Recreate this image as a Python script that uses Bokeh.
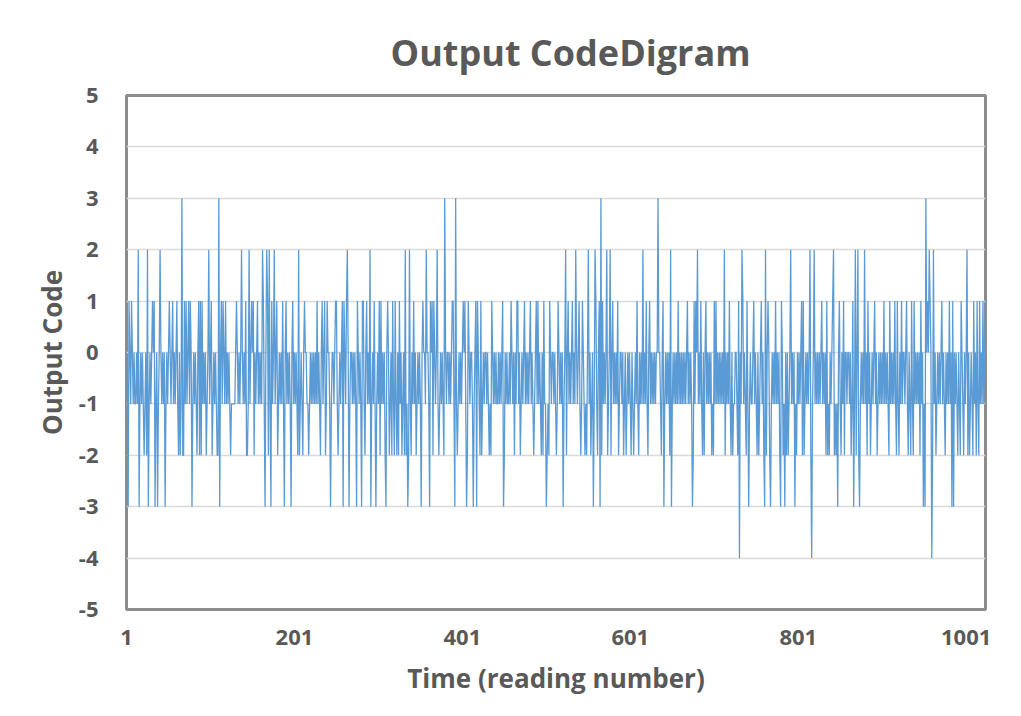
from bokeh.plotting import figure
from bokeh.models import FixedTicker, Range1d, ColumnDataSource
from bokeh.embed import file_html
from bokeh.resources import INLINE

# Output codes, readings 1..1024 (128 per block)
block_a = [0,-1,-3,1,0,-1,1,0,-1,0,-1,-1,0,-1,2,-3,
           -1,0,-1,0,-1,-2,-1,0,-2,2,-3,-1,0,-1,0,1,
           0,1,-3,-1,0,-3,-1,0,2,0,-1,0,-1,0,-3,-1,
           0,-1,0,1,0,-1,0,1,-1,0,-1,0,1,-1,-2,0,
           -2,-1,3,-2,-2,1,-1,1,-1,0,1,-1,1,0,-3,-1,
           0,-1,0,-1,-2,0,1,-2,1,-2,1,-1,0,-1,0,-2,
           -1,0,2,-1,0,1,-2,-1,0,-1,0,-1,-2,-2,3,-3,
           0,1,-1,1,0,-1,1,-1,0,-1,0,-1,-2,-1,-1,-1]
block_b = [-1,-1,0,1,0,-1,0,-1,0,2,0,-1,0,-1,1,-2,
           -2,-1,2,-1,0,1,0,1,-2,0,-1,0,1,-1,0,-1,
           0,-1,2,1,-1,-3,0,2,1,-2,2,-1,-3,1,-1,0,
           2,-1,0,1,-2,-1,0,-1,0,-1,1,-1,-3,0,1,-1,
           0,-1,0,-1,-3,0,1,-1,0,-1,0,-1,-2,2,-2,-1,
           0,-1,-2,0,1,0,0,-1,-1,-2,-1,0,-1,0,-1,0,
           -1,0,-1,1,-1,0,-1,-2,0,1,-1,0,1,-2,-1,1,
           0,0,-1,-3,-1,0,0,-1,0,1,1,-1,-2,-1,0,-1]
block_c = [0,1,-3,1,0,-1,1,2,0,-3,-1,0,0,-1,0,-1,
           0,-1,-3,1,0,-1,0,-1,-3,1,1,-1,-2,0,1,-1,
           0,-1,2,-3,-1,0,-1,1,-1,-3,-1,0,-1,1,-2,1,
           -1,0,-1,0,-2,-3,0,1,0,-2,-1,0,-2,1,-1,-2,
           1,-1,-2,0,-2,1,-1,0,-2,-1,0,-2,2,-2,-1,-3,
           -2,2,-1,-2,0,-1,1,-1,0,-2,-1,0,-1,0,-1,-3,
           0,1,0,0,-1,2,0,0,-1,-3,1,0,1,-2,1,0,
           -1,0,2,-1,-2,-1,0,-1,0,-1,-2,3,0,-1,0,0]
block_d = [-1,0,-1,0,1,1,-1,-3,3,-1,-2,-1,0,-1,0,-1,
           0,1,0,1,-1,-3,-2,1,0,-1,0,0,-1,-3,-1,0,
           1,-3,1,0,-1,-2,1,-2,-1,0,-1,0,0,-1,0,-1,
           -2,-1,-2,1,0,-1,0,-1,0,-1,-1,0,-1,0,-1,0,
           1,-3,-2,0,-1,0,-1,-1,0,-1,1,0,-1,0,-2,0,
           -1,1,1,-1,0,-2,-1,0,-1,0,1,-1,0,-1,0,-1,
           0,1,-1,0,-1,-2,-1,0,1,-1,1,-1,0,-1,-2,0,
           -2,1,-1,-1,-3,-2,-1,-2,1,0,-1,0,0,-1,0,-1]
block_e = [-2,-1,1,0,-1,0,-1,0,-3,-1,0,2,-2,0,1,-1,
           0,-1,0,1,-1,0,-1,2,0,-1,0,1,-1,-2,-1,1,
           0,-1,-2,-1,-2,0,2,-1,0,-2,-1,0,-3,-1,2,1,
           -1,-2,0,1,-3,3,-2,1,-1,0,-1,0,2,-2,-1,0,
           2,-2,0,1,-1,0,-1,0,-1,1,-2,-1,0,0,-1,0,
           -2,-1,0,-2,-1,0,-1,0,-1,-2,0,-1,-2,-1,0,-1,
           1,-1,-2,0,-1,0,-1,2,-1,0,-1,1,-1,-2,0,1,
           -1,0,-1,0,-1,0,-1,0,0,3,0,0,-1,-2,0,1]
block_f = [-3,-1,0,-1,0,-1,0,-2,2,-3,-1,0,-1,0,-1,0,
           -1,1,-1,0,-1,0,-1,0,-1,0,-1,0,1,-1,0,-1,
           0,-1,-3,-2,1,-1,1,0,2,-1,0,-1,1,-1,-2,0,
           -2,0,1,-1,0,-1,0,-1,0,-2,-1,-2,1,-1,1,-1,
           0,-1,0,-1,0,-1,0,-1,2,-2,0,-1,0,-1,1,-1,
           -2,0,-2,-1,-1,0,0,-1,-2,1,-4,0,-1,2,1,-1,
           0,-1,-2,1,-1,-3,-1,0,-1,-1,0,1,-1,0,-1,-2,
           0,-2,-1,0,1,-1,0,-2,-3,2,-2,0,1,0,-2,-3]
block_g = [-1,0,-1,0,-1,1,-1,0,-1,0,-2,-3,1,0,-2,-1,
           -3,0,-2,0,-2,-1,0,2,-1,0,-1,0,-3,-1,-2,0,
           -1,0,-1,0,1,-2,1,-2,-1,0,-1,0,-1,0,2,-2,
           -4,-1,0,2,-1,0,-1,0,-1,0,-1,0,1,-1,0,-1,
           0,-2,1,-2,-1,-2,0,-1,0,1,2,-2,-1,-2,-1,-3,
           0,1,-1,-2,0,-1,1,-2,0,0,-1,0,0,-1,0,-2,
           -1,1,-3,-1,2,-2,0,2,-2,-3,-1,0,-1,0,-1,2,
           -1,0,-2,1,-1,0,-2,-1,0,-1,0,1,-1,0,-2,-1]
block_h = [0,-1,0,-1,0,-1,1,-1,0,-1,0,-1,-2,1,-1,0,
           -1,0,-1,1,-1,-2,1,-1,-2,0,-1,1,-1,0,0,-1,
           0,1,-1,-2,0,-1,-2,1,-1,-2,1,-1,0,-1,0,-1,
           0,-2,1,-1,0,-3,-1,-3,3,0,1,0,2,1,0,-4,
           -2,2,-1,0,-2,-1,0,-1,0,-1,0,1,-1,0,-1,-2,
           0,-1,0,-1,1,-1,0,-3,1,-3,0,-1,0,-1,-2,0,
           -1,-2,1,0,-1,-2,0,-1,0,2,-2,0,-2,-1,0,-1,
           -2,1,-1,0,-2,1,-1,-2,1,-1,0,-1,1,-1,0,1]

codes = block_a + block_b + block_c + block_d + block_e + block_f + block_g + block_h
readings = list(range(1, len(codes) + 1))

x_ticks = [1, 201, 401, 601, 801, 1001]
y_ticks = [-5, -4, -3, -2, -1, 0, 1, 2, 3, 4, 5]
y_tick_labels = ["-5", "-4", "-3", "-2", "-1", "0", "1", "2", "3", "4", "5"]

TEXT = "#595959"
FONT = "Open Sans"

source = ColumnDataSource(data=dict(reading=readings, code=codes))

p = figure(width=1013, height=708, output_backend="svg", toolbar_location=None,
           x_range=Range1d(1, len(codes)), y_range=Range1d(-5, 5),
           min_border_left=126, min_border_right=28, min_border_top=95,
           min_border_bottom=99, title="Output CodeDigram")

p.title.text_font = FONT
p.title.text_font_size = "36px"
p.title.text_font_style = "bold"
p.title.text_color = TEXT
p.title.align = "left"
p.title.standoff = 38
p.title.offset = 264

p.line("reading", "code", source=source, line_color="#5b9bd5", line_width=1.3)

p.outline_line_color = "#8c8c8c"
p.outline_line_width = 3

p.xgrid.visible = False
p.ygrid.ticker = FixedTicker(ticks=y_ticks)
p.ygrid.grid_line_color = "#d9d9d9"
p.ygrid.grid_line_width = 1.5

p.xaxis.ticker = FixedTicker(ticks=x_ticks)
p.yaxis.ticker = FixedTicker(ticks=y_ticks)
p.yaxis.major_label_overrides = {t: s for t, s in zip(y_ticks, y_tick_labels)}
for ax in (p.xaxis, p.yaxis):
    ax.axis_line_color = None
    ax.major_tick_line_color = None
    ax.minor_tick_line_color = None
    ax.major_label_text_font = FONT
    ax.major_label_text_font_style = "bold"
    ax.major_label_text_font_size = "22px"
    ax.major_label_text_color = TEXT
    ax.axis_label_text_font = FONT
    ax.axis_label_text_font_style = "bold"
    ax.axis_label_text_font_size = "26px"
    ax.axis_label_text_color = TEXT

p.xaxis.axis_label = "Time (reading number)"
p.yaxis.axis_label = "Output Code"
p.xaxis.major_label_standoff = 14
p.yaxis.major_label_standoff = 22
p.xaxis.axis_label_standoff = 12
p.yaxis.axis_label_standoff = 6

open("out.html", "w").write(file_html(p, INLINE))
